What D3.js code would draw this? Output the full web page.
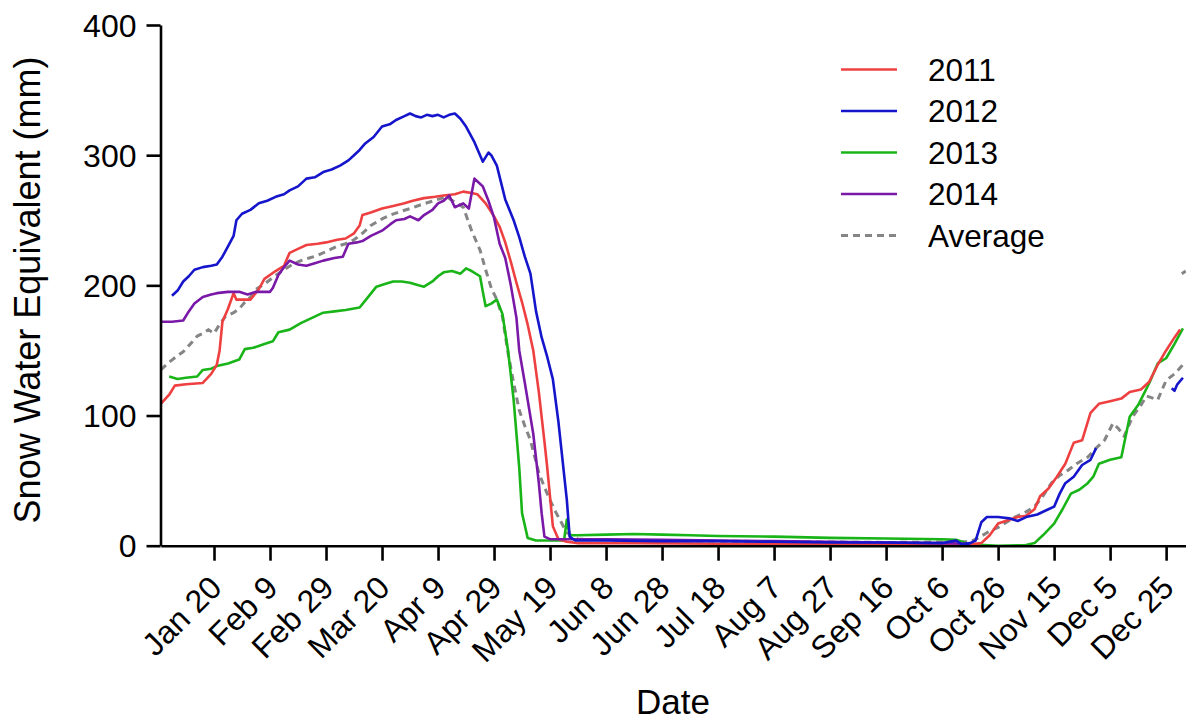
<!DOCTYPE html>
<html>
<head>
<meta charset="utf-8">
<script src="https://cdn.jsdelivr.net/npm/d3@7"></script>
<style>
  html, body { margin: 0; padding: 0; background: #fff; }
  svg { display: block; }
  text { font-family: "Liberation Sans", Arial, sans-serif; fill: #000; }
</style>
</head>
<body>
<svg id="chart" width="1186" height="723"></svg>
<script>
// ---- data (day of year, leap year; SWE in mm) ----
const tickDays = [20, 40, 60, 80, 100, 120, 140, 160, 180, 200, 220, 240, 260, 280, 300, 320, 340, 360];
const tickLabels = ["Jan 20", "Feb 9", "Feb 29", "Mar 20", "Apr 9", "Apr 29", "May 19", "Jun 8", "Jun 28", "Jul 18", "Aug 7", "Aug 27", "Sep 16", "Oct 6", "Oct 26", "Nov 15", "Dec 5", "Dec 25"];
const yTicks = [0, 100, 200, 300, 400];
const seriesNames = ["2011", "2012", "2013", "2014", "Average"];

const swe2011 = [[1,109],[4,116],[6,123],[10,124],[16,125],[19,132],[21,139],[22,150],[23,172],[25,182],[27,194],[28,189],[33,189],[36,197],[38,205],[42,211],[45,215],[47,225],[50,228],[53,231],[57,232],[60,233],[64,235],[67,236],[70,240],[72,246],[73,254],[76,256],[80,259],[84,261],[88,263],[91,265],[95,267],[99,268],[102,269],[106,270],[109,272],[112,271],[114,270],[117,263],[120,253],[122,245],[124,233],[126,218],[128,202],[130,187],[132,170],[134,150],[136,118],[138,80],[139,60],[141,15],[143,5],[146,3],[150,2],[170,2],[200,1.5],[230,1.5],[260,1],[290,1],[294,2],[297,8],[300,17],[304,20],[307,22],[310,23],[313,28],[315,38],[318,44],[321,53],[324,63],[327,79],[330,81],[333,102],[336,109],[340,111],[344,113],[347,118],[351,120],[354,126],[357,139],[360,150],[363,160],[365,166]];

const swe2012 = [[5,192],[7,196],[9,203],[11,207],[13,212],[16,214],[19,215],[21,216],[23,222],[25,230],[27,238],[28,250],[30,255],[33,258],[36,263],[39,265],[42,268],[45,270],[47,273],[50,276],[53,282],[56,283],[59,287],[62,289],[65,292],[68,296],[70,300],[72,304],[74,309],[77,314],[80,322],[83,324],[85,327],[88,330],[90,332],[92,330],[94,329],[96,331],[98,330],[100,331],[102,329],[104,331],[106,332],[108,328],[110,322],[113,310],[116,295],[118,302],[119,300],[121,292],[124,266],[127,250],[129,237],[131,222],[133,209],[135,180],[137,160],[139,145],[141,128],[143,95],[144,75],[146,35],[147,7],[149,4],[160,4],[180,3.5],[200,3.5],[220,3],[240,2.5],[260,2.5],[280,2],[285,4],[287,1],[290,2],[292,4],[294,18],[296,22],[300,22],[304,21],[307,19],[310,22],[314,24],[317,27],[320,30],[322,40],[324,48],[327,53],[330,62],[333,66],[335,75],null,[362,121],[363,119],[364,124],[366,129]];

const swe2013 = [[4,130],[7,128],[10,129],[14,130],[16,135],[19,136],[21,138],[25,140],[29,143],[31,151],[34,152],[38,155],[41,157],[43,164],[47,166],[51,171],[55,175],[59,179],[63,180],[67,181],[72,183],[75,191],[78,199],[81,201],[84,203],[87,203],[90,202],[93,200],[95,199],[98,203],[100,207],[102,210],[105,211],[108,209],[110,213],[112,211],[115,207],[116,195],[117,184],[119,186],[121,189],[123,178],[125,150],[127,112],[129,60],[130,25],[132,6],[135,4],[140,4],[145,4],[146,20],[147,8],[150,8],[160,8.5],[170,9],[180,8.5],[190,8],[200,7.5],[220,7],[240,6],[260,5.5],[280,5],[285,4.5],[290,1],[300,0],[310,0.5],[313,2],[316,8],[320,17],[323,28],[326,40],[329,43],[332,48],[334,53],[336,63],[340,66],[344,68],[347,99],[350,108],[354,125],[357,140],[360,144],[363,155],[366,167]];

const swe2014 = [[1,172],[5,172],[9,173],[11,180],[13,186],[16,191],[19,193],[21,194],[25,195],[29,195],[32,193],[35,195],[40,195],[41,198],[43,208],[45,214],[47,219],[50,216],[53,215],[56,217],[59,219],[63,221],[66,222],[68,232],[71,233],[73,234],[76,238],[80,242],[83,247],[85,250],[88,251],[90,253],[93,250],[95,254],[98,258],[100,263],[102,265],[104,269],[106,260],[109,263],[111,259],[113,282],[114,280],[116,276],[118,265],[120,252],[122,232],[124,221],[126,200],[128,175],[129,150],[131,125],[132,112],[134,86],[136,48],[137,25],[138,7],[140,5],[160,5],[180,4.5],[200,4],[220,3.5],[240,3],[260,2.5],[280,2],[290,1.5]];

const sweAvg = [[1,135],[4,141],[7,146],[9,149],[12,156],[14,161],[16,163],[18,166],[20,163],[22,170],[24,176],[27,179],[29,182],[31,187],[33,191],[35,197],[38,201],[41,206],[45,212],[48,216],[51,219],[54,221],[57,223],[61,227],[64,230],[67,232],[70,235],[73,240],[76,246],[80,251],[83,254],[87,257],[90,259],[94,262],[97,264],[100,266],[103,268],[106,264],[109,260],[110,254],[112,242],[115,227],[117,212],[119,198],[121,189],[123,176],[125,148],[127,125],[129,104],[131,92],[133,81],[136,56],[138,45],[140,35],[142,26],[144,18],[146,10],[150,5],[170,4],[200,3.5],[230,3],[260,2.5],[290,3],[293,6],[296,10],[300,14],[303,18],[306,22],[310,26],[313,30],[316,38],[319,48],[322,54],[325,58],[328,63],[332,68],[335,75],[338,81],[341,94],[343,90],[345,84],[348,99],[351,108],[353,115],[357,112],[360,127],[363,132],[366,139],null,[365.6,209],[367,211]];

const seriesData = [swe2011, swe2012, swe2013, swe2014, sweAvg];
const seriesColors = ["#ee4040", "#1515cc", "#18b418", "#7a18a8", "#858585"];

// ---- layout ----
const svg = d3.select("#chart");
const x = d3.scaleLinear().domain([1, 367.1]).range([160.8, 1186]);
const y = d3.scaleLinear().domain([0, 400]).range([545.7, 25]);

svg.append("defs").append("clipPath").attr("id", "plotclip")
  .append("rect").attr("x", 160).attr("y", 0).attr("width", 1026).attr("height", 546);

const line = d3.line()
  .defined(d => d !== null)
  .x(d => x(d[0]))
  .y(d => y(d[1]));

const plot = svg.append("g").attr("clip-path", "url(#plotclip)");
const order = [4, 2, 0, 3, 1];
order.forEach(i => {
  plot.append("path")
    .datum(seriesData[i])
    .attr("fill", "none")
    .attr("stroke", seriesColors[i])
    .attr("stroke-width", i === 4 ? 3 : 2.6)
    .attr("stroke-dasharray", i === 4 ? "7,5" : null)
    .attr("stroke-linejoin", "round")
    .attr("d", line);
});

// axes
const xAxis = svg.append("g")
  .attr("transform", "translate(0,545.7)")
  .call(d3.axisBottom(x).tickValues(tickDays)
    .tickFormat((d, i) => tickLabels[i]).tickSize(15).tickSizeOuter(0).tickPadding(0));
xAxis.select(".domain").attr("stroke", "#000").attr("stroke-width", 2.6);
xAxis.selectAll(".tick line").attr("stroke", "#000").attr("stroke-width", 2.6);
xAxis.selectAll(".tick text")
  .attr("font-size", 32)
  .attr("text-anchor", "end")
  .attr("dy", null)
  .attr("y", 0)
  .attr("transform", "translate(9,44) rotate(-45)");

const yAxis = svg.append("g")
  .attr("transform", "translate(160.5,0)")
  .call(d3.axisLeft(y).tickValues(yTicks).tickSize(14).tickSizeOuter(0).tickPadding(10));
yAxis.select(".domain").attr("stroke", "#000").attr("stroke-width", 2.6);
yAxis.selectAll(".tick line").attr("stroke", "#000").attr("stroke-width", 2.6);
yAxis.selectAll(".tick text").attr("font-size", 32).attr("dy", "0.35em");

// axis titles
svg.append("text").attr("x", 673).attr("y", 714).attr("text-anchor", "middle")
  .attr("font-size", 35).text("Date");
svg.append("text").attr("transform", "translate(40,290) rotate(-90)")
  .attr("text-anchor", "middle").attr("font-size", 36).text("Snow Water Equivalent (mm)");

// legend
const legend = svg.append("g");
seriesNames.forEach((name, i) => {
  const cy = 69.5 + i * 41.5;
  legend.append("line").attr("x1", 841).attr("x2", 897).attr("y1", cy).attr("y2", cy)
    .attr("stroke", seriesColors[i]).attr("stroke-width", i === 4 ? 3 : 2.6)
    .attr("stroke-dasharray", i === 4 ? "7,5" : null);
  legend.append("text").attr("x", 928).attr("y", cy).attr("dy", "0.36em")
    .attr("font-size", 31.5).text(name);
});
</script>
</body>
</html>
